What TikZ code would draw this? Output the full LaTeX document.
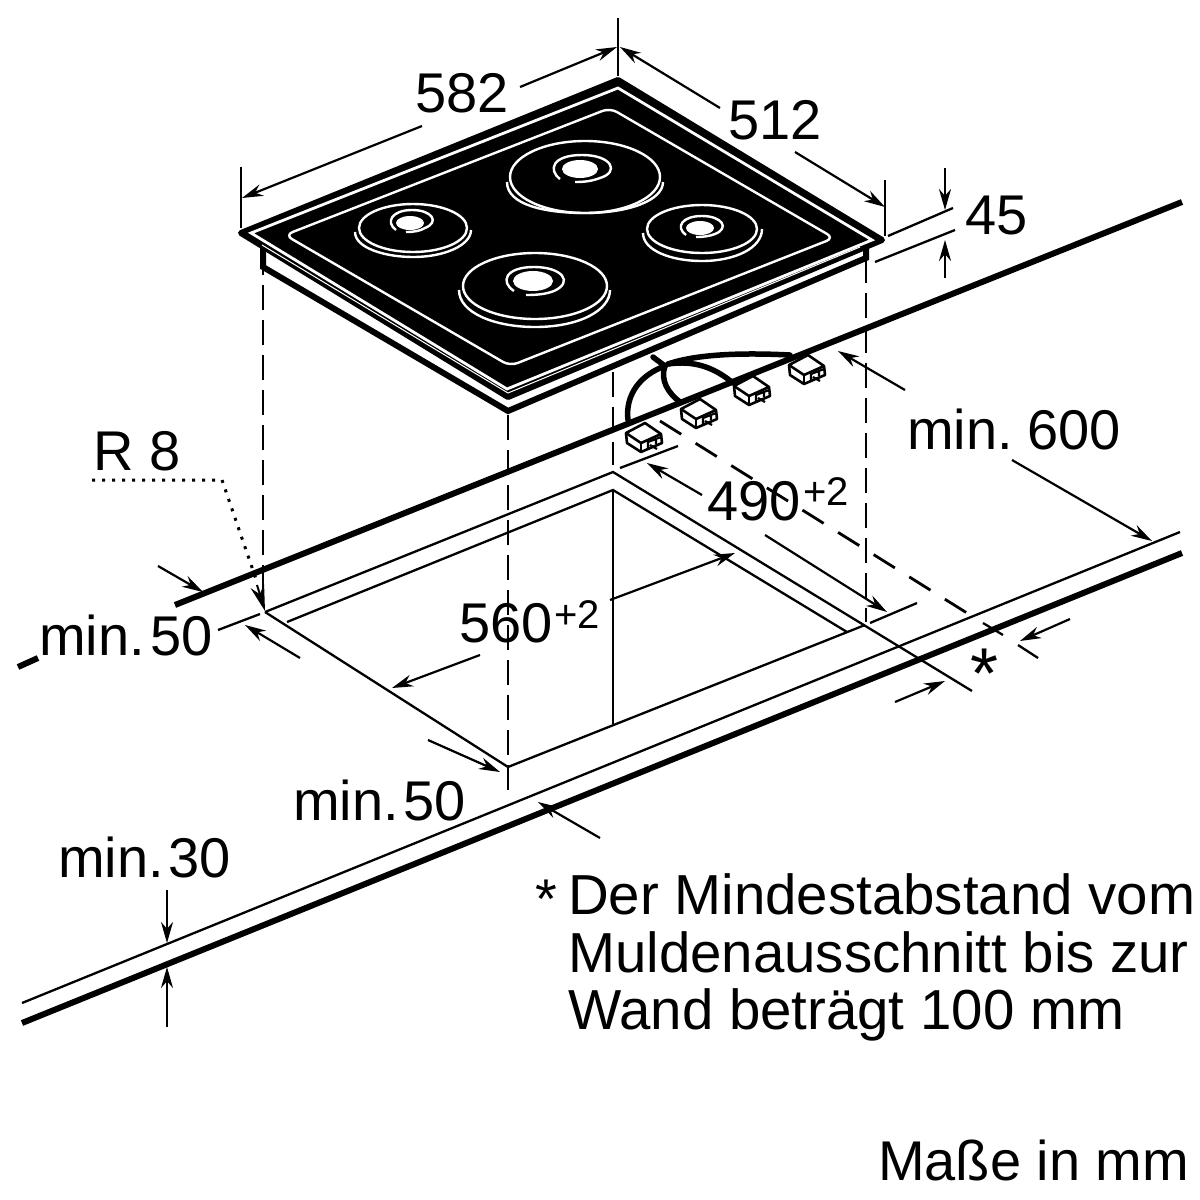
\documentclass[tikz,border=0pt]{standalone}
\usepackage{fontspec}
\setmainfont{Liberation Sans}
\usetikzlibrary{arrows.meta}
\newcommand{\bigfont}{\fontsize{56}{67}\selectfont}
\newcommand{\notefont}{\fontsize{56.4}{67}\selectfont}
\newcommand{\supfont}{\fontsize{40}{48}\selectfont}
\tikzset{
 thin line/.style={line width=2.3pt,black},
 thick line/.style={line width=6pt,black},
 dim/.style={line width=2.2pt,-{Stealth[length=21pt,width=12pt]}},
 dash line/.style={line width=2.8pt,dash pattern=on 25pt off 10pt},
 dash slant/.style={line width=2.8pt,dash pattern=on 25pt off 17pt},
 lab/.style={anchor=base west,inner sep=0pt,font=\bigfont},
 notelab/.style={anchor=base west,inner sep=0pt,font=\notefont},
 suplab/.style={anchor=base west,inner sep=0pt,font=\supfont},
 burner/.style={white,line width=2.4pt},
 wire/.style={line width=5.5pt,line cap=round},
 pics/plug/.style={code={
  \draw[line width=2.6pt,fill=white,line join=round] (0,1) -- (19,-9) -- (35,2) -- (36,11) -- (15,20) -- (1,11) -- cycle;
  \draw[line width=2.6pt] (0,1) -- (15,11) -- (35,2);
  \draw[line width=2.6pt] (15,11) -- (15,20);
  \draw[line width=2.2pt] (22,9) -- (22,16) (22,10) -- (35,5) (24,13) -- (31,17) (30,8) -- (30,12);
 }}
}
\begin{document}
\begin{tikzpicture}[x=1pt,y=-1pt]
\useasboundingbox (0,0) rectangle (1200,1200);
% worktop
\draw[thick line] (175,605) -- (1182,202);
\draw[thick line] (18,667) -- (38,658);
\draw[thin line] (22,1003) -- (1180,532);
\draw[thick line] (22,1023) -- (1182,553);
% cut-out
\draw[thin line] (218,630) -- (260,614);
\draw[thin line,line join=miter] (265,612) -- (613,472) -- (972,691);
\draw[thin line] (265,612) -- (508,767) -- (865,625);
\draw[thin line] (287,622) -- (613,490) -- (847,632);
\draw[thin line] (613,490) -- (613,724);
\draw[thin line] (620,468) -- (678,446);
\draw[thin line] (870,623) -- (917,603);
% dashed
\draw[dash line] (263,250) -- (263,603);
\draw[dash line] (508,415) -- (508,790);
\draw[dash line] (866,258) -- (866,622);
\draw[dash line] (613,372) -- (613,465);
\draw[dash slant] (660,421) -- (967,613);
\draw[thin line] (983,623) -- (1003,635);
\draw[thin line] (1018,645) -- (1038,658);
% hob
\draw[thick line,line join=miter,fill=white] (263,248) -- (263,267) -- (508,411) -- (866,258) -- (866,248);
\fill[black,line join=round] (241,233) -- (618,80) -- (882,240) -- (508,397) -- cycle;
\draw[thick line,line join=round] (241,233) -- (618,80) -- (882,240) -- (508,397) -- cycle;
\draw[white,line width=2.8pt,line join=miter] (251,233) -- (618,88) -- (872,240) -- (507,389) -- cycle;
\draw[white,line width=1pt] (262,245) -- (508,393) -- (860,247);
\draw[burner,rounded corners=8pt] (285,235) -- (610,108) -- (834,238) -- (510,366) -- cycle;
% burners
\draw[burner] (585,177) ellipse (75 and 36);
\draw[burner] (507,182) .. controls (507,205) and (545,213) .. (585,213) .. controls (630,213) and (663,200) .. (663,182);
\fill[white] (580,169) ellipse (18 and 9);
\draw[burner] (560,179) .. controls (548,170) and (552,155) .. (582,155) .. controls (612,155) and (620,172) .. (600,178) .. controls (592,181) and (585,182) .. (575,182);
\draw[burner] (413,228) ellipse (54 and 24);
\draw[burner] (355,232) .. controls (355,248) and (385,257) .. (413,257) .. controls (445,257) and (471,245) .. (471,230);
\fill[white] (410,223) ellipse (14 and 7);
\draw[burner] (396,230) .. controls (385,222) and (392,210) .. (412,210) .. controls (432,210) and (440,222) .. (425,228) .. controls (420,231) and (414,232) .. (406,232);
\draw[burner] (535,286) ellipse (72 and 33);
\draw[burner] (459,290) .. controls (459,313) and (495,327) .. (535,327) .. controls (580,327) and (610,310) .. (610,290);
\fill[white] (533,281) ellipse (20 and 10);
\draw[burner] (514,291) .. controls (500,282) and (505,267) .. (534,267) .. controls (562,267) and (574,282) .. (554,291) .. controls (546,294) and (538,295) .. (526,295);
\draw[burner] (702,229) ellipse (55 and 24);
\draw[burner] (643,233) .. controls (643,250) and (670,261) .. (702,261) .. controls (735,261) and (762,248) .. (762,229);
\fill[white] (700,228) ellipse (14 and 7);
\draw[burner] (686,235) .. controls (675,227) and (682,216) .. (702,216) .. controls (722,216) and (730,228) .. (715,234) .. controls (710,236) and (704,237) .. (696,237);
% wires
\draw[wire] (653,357) -- (665,366);
\draw[wire] (665,366) .. controls (640,375) and (625,395) .. (628,420);
\draw[wire] (665,366) .. controls (660,380) and (668,393) .. (680,402);
\draw[wire] (668,364) .. controls (695,360) and (715,368) .. (733,383);
\draw[wire] (668,364) .. controls (700,353) and (750,353) .. (790,355);
% plugs
\pic at (626,432) {plug};
\pic at (681,408) {plug};
\pic at (734,385) {plug};
\pic at (789,364) {plug};
% dimensions
\draw[thin line] (241,167) -- (241,228);
\draw[thin line] (618,18) -- (618,76);
\draw[thin line] (885,180) -- (885,236);
\draw[dim] (422,126) -- (242,198);
\draw[dim] (520,87) -- (617,47);
\draw[dim] (720,108) -- (620,47);
\draw[dim] (795,152) -- (885,207);
\draw[thin line] (888,236) -- (953,208);
\draw[thin line] (875,262) -- (955,230);
\draw[dim] (945,168) -- (945,210);
\draw[dim] (945,278) -- (945,240);
\draw[dim] (905,390) -- (838,351);
\draw[dim] (1012,460) -- (1152,541);
\draw[dim] (702,495) -- (647,463);
\draw[dim] (765,535) -- (887,612);
\draw[dim] (610,600) -- (735,553);
\draw[dim] (480,655) -- (392,688);
\draw[dim] (158,566) -- (203,592);
\draw[dim] (300,658) -- (245,625);
\draw[dim] (428,740) -- (500,772);
\draw[dim] (600,838) -- (538,802);
\draw[dim] (167,890) -- (167,943);
\draw[dim] (167,1027) -- (167,967);
\draw[dim] (895,702) -- (945,681);
\draw[dim] (1070,619) -- (1020,641);
\draw[line width=3pt,dash pattern=on 3pt off 7pt] (92,480) -- (222,480) -- (257,582);
\draw[-{Stealth[length=26pt,width=14pt]},line width=2pt] (257,585) -- (265,611);
% labels
\node[lab] (l582) at (415,112) {582};
\node[lab] (l512) at (728,139) {512};
\node[lab] (l45) at (965,234) {45};
\node[lab] (l600a) at (907,449) {min.};
\node[lab] (l600b) at (1027,449) {600};
\node[lab] (lr) at (93,470) {R 8};
\node[lab] (l490) at (707,520) {490};
\node[suplab] (s490) at (803,505) {+2};
\node[lab] (l560) at (459,642) {560};
\node[suplab] (s560) at (554,628) {+2};
\node[lab] (lm1a) at (39,655) {min.};
\node[lab] (lm1b) at (150,655) {50};
\node[lab] (lm2a) at (293,820) {min.};
\node[lab] (lm2b) at (403,820) {50};
\node[lab] (lm3a) at (58,877) {min.};
\node[lab] (lm3b) at (168,877) {30};
\node[anchor=base west,inner sep=0pt,font=\fontsize{72}{80}\selectfont] (star) at (970,698) {*};
\node[lab] (n0) at (535,918) {*};
\node[notelab] (n1) at (568,914) {Der Mindestabstand vom};
\node[notelab] (n2) at (568,972) {Muldenausschnitt bis zur};
\node[notelab] (n3) at (568,1029) {Wand beträgt 100 mm};
\node[lab] (n4) at (878,1180) {Maße in mm};
\end{tikzpicture}
\end{document}
